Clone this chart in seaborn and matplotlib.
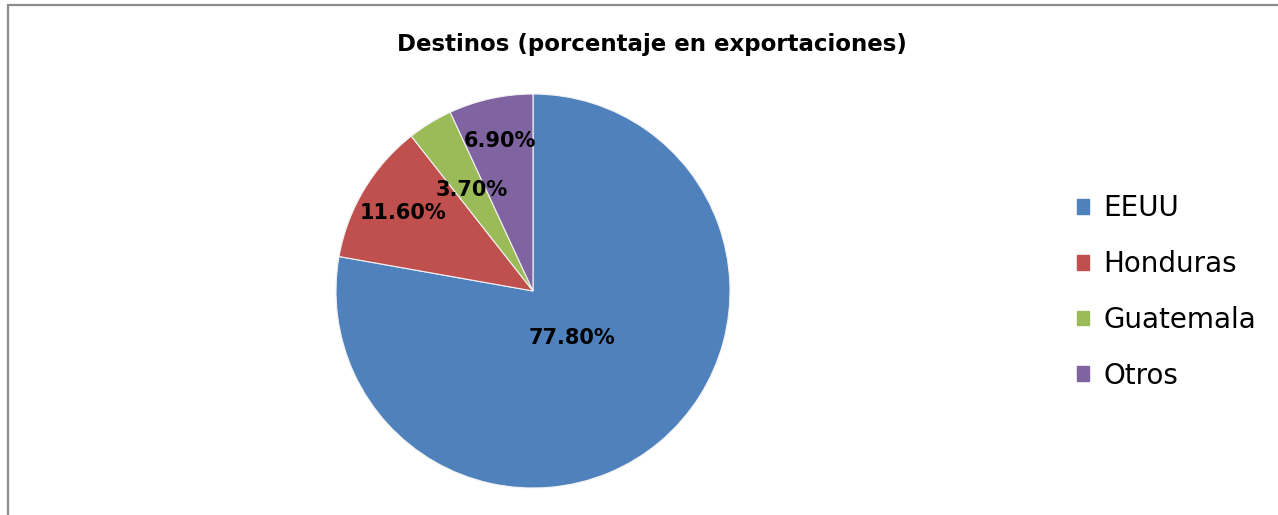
import numpy as np
import matplotlib.pyplot as plt
import matplotlib.patches as mpatches
import seaborn as sns

destinos = ["EEUU", "Honduras", "Guatemala", "Otros"]
porcentajes = [77.8, 11.6, 3.7, 6.9]
colores = ["#4F81BD", "#C0504D", "#9BBB59", "#8064A2"]
titulo = "Destinos (porcentaje en exportaciones)"

sns.set_theme(style="white")
plt.rcParams['font.family'] = ['DejaVu Sans']
plt.rcParams['text.color'] = 'black'
pal = sns.color_palette(colores)

W, H = 1278, 515
fig = plt.figure(figsize=(W / 100, H / 100), dpi=100)

# pie box: centre (533, 291), radius 197 px
cx, cy, r = 533, 291, 197
ax = fig.add_axes([(cx - r) / W, (H - cy - r) / H, 2 * r / W, 2 * r / H])
wedges, texts, autotexts = ax.pie(
    porcentajes, colors=pal, startangle=90, counterclock=False,
    autopct=lambda p: f"{p:.2f}%", radius=1,
    wedgeprops=dict(edgecolor="#f2f2f2", linewidth=0.8),
    textprops=dict(fontsize=15, fontweight="bold", color="black"))
ax.set_xlim(-1, 1)
ax.set_ylim(-1, 1)

# Excel-style "best fit" label distances
dist = [0.31, 0.77, 0.6, 0.78]
for w, t, d in zip(wedges, autotexts, dist):
    ang = np.deg2rad((w.theta1 + w.theta2) / 2)
    t.set_position((d * np.cos(ang), d * np.sin(ang)))

fig.text(652 / W, 1 - 45 / H, titulo, ha="center", va="center",
         fontsize=16.5, fontweight="bold", color="black")

handles = [mpatches.Patch(color=c) for c in pal]
leg = fig.legend(handles, destinos, loc="center left",
                 bbox_to_anchor=(1063 / W, 1 - 292 / H), frameon=False,
                 fontsize=20, handlelength=0.45, handleheight=0.45,
                 handletextpad=0.5, labelspacing=1.0, borderpad=0)
for t in leg.get_texts():
    t.set_color("black")

# outer frame (cut at right and bottom)
fig.patches.append(mpatches.Rectangle((8 / W, -0.1), 1.2, 1 - 5 / H + 0.1,
                                      transform=fig.transFigure, fill=False,
                                      edgecolor="#8c8c8c", linewidth=1.6))

fig.savefig("out.png", dpi=100)
